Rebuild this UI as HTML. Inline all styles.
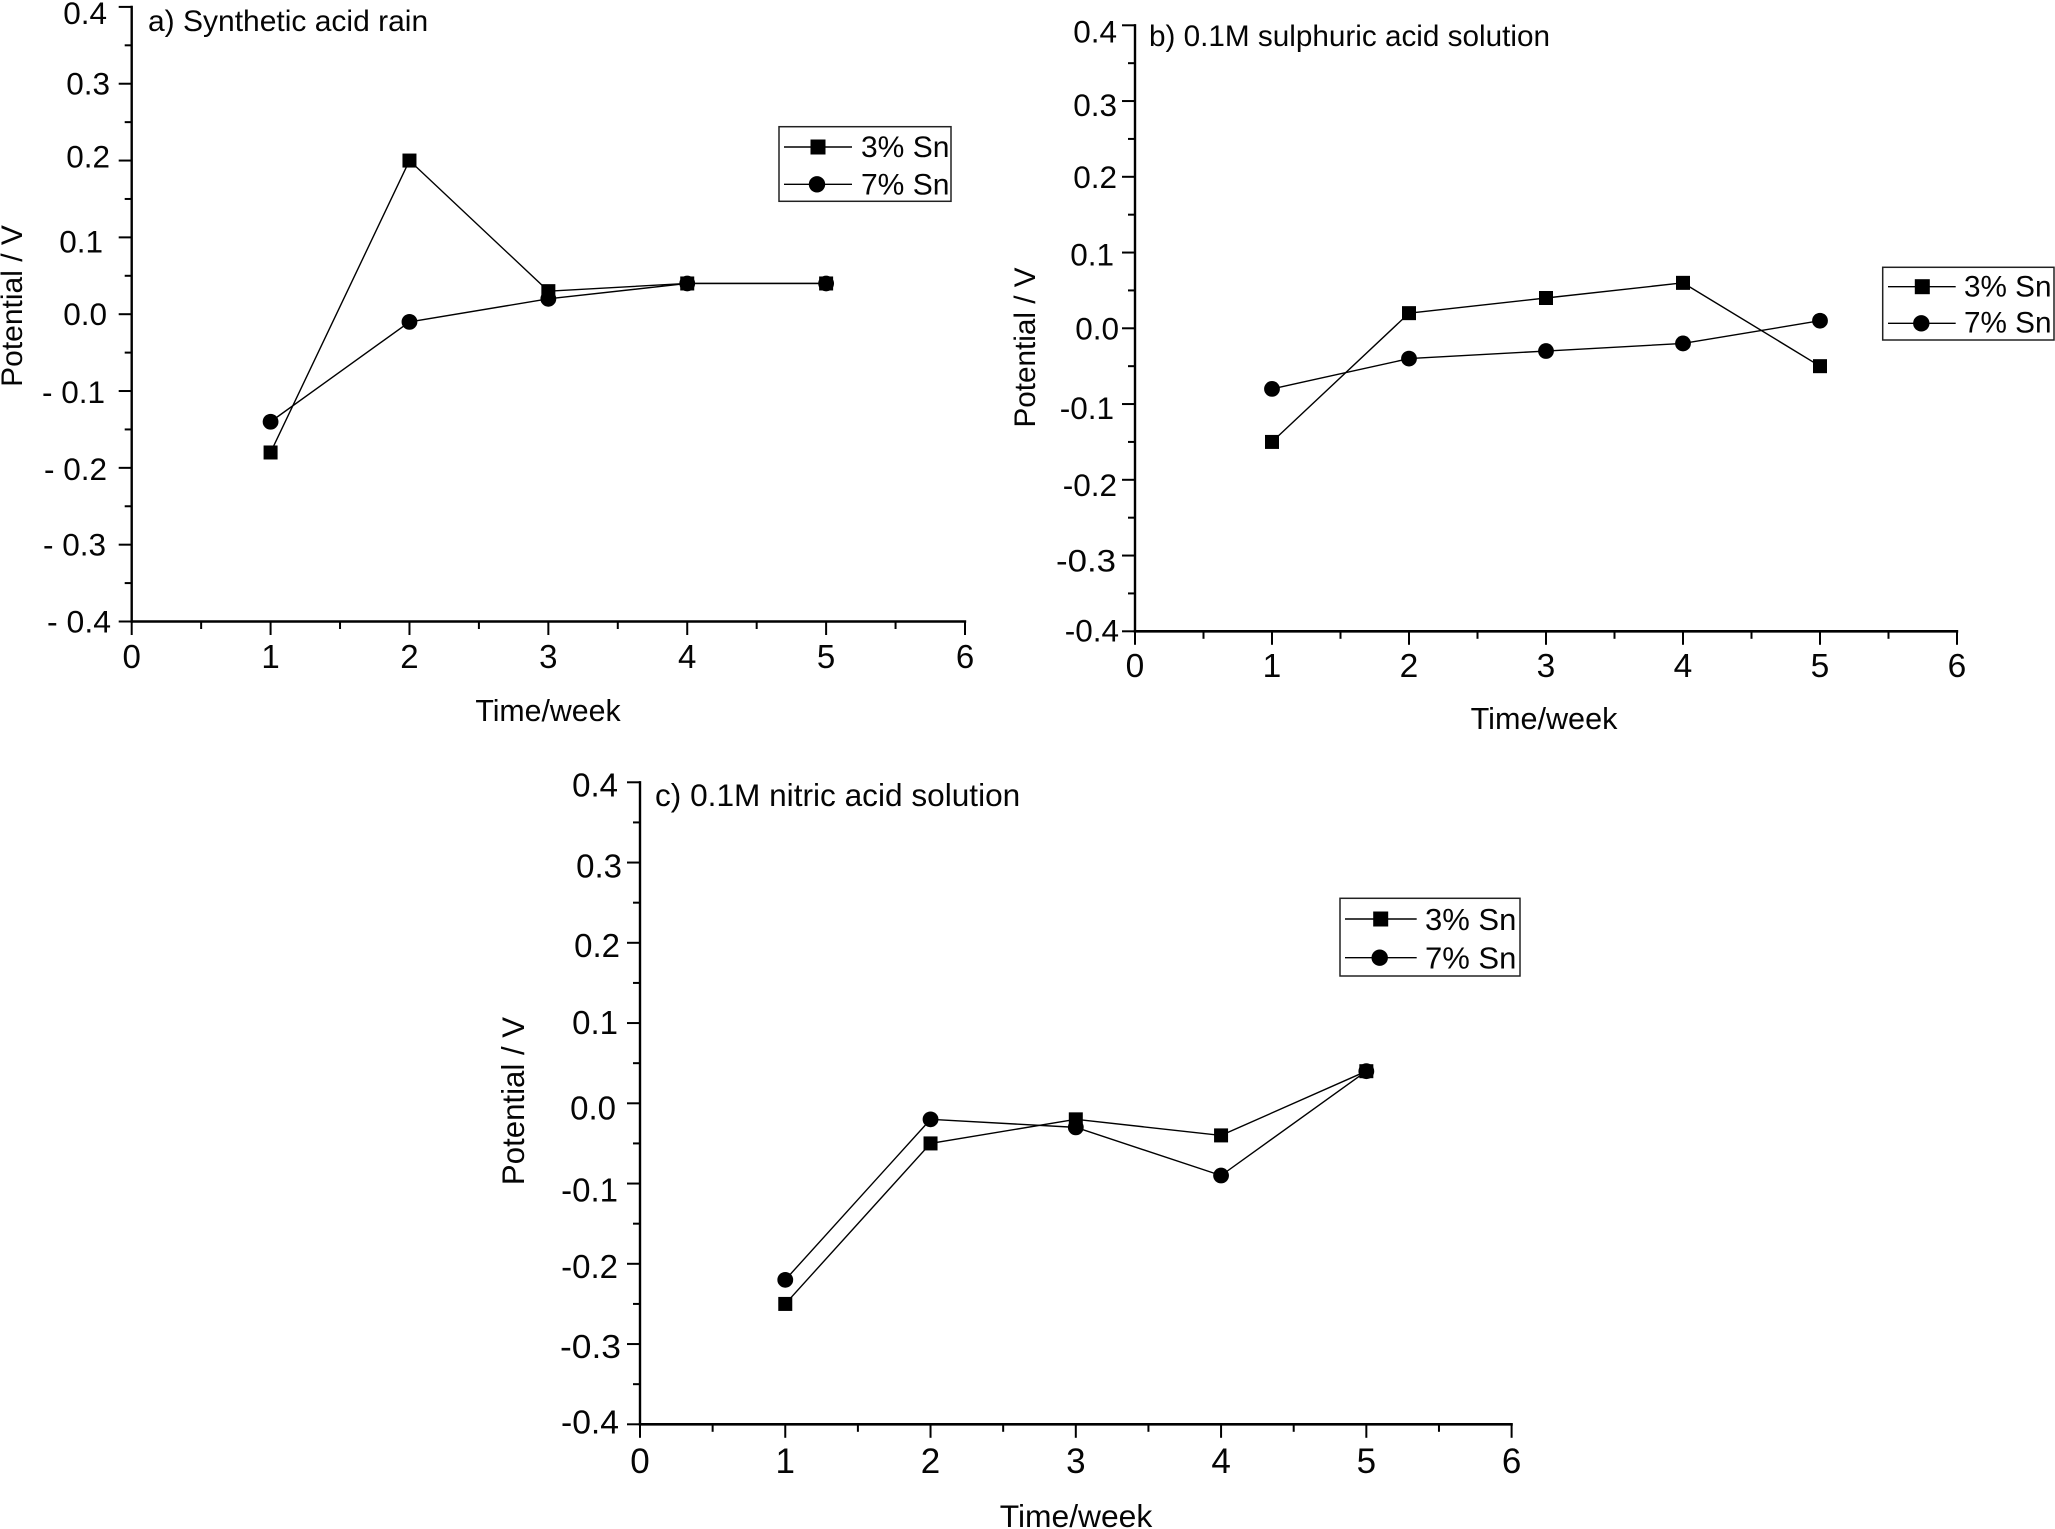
<!DOCTYPE html>
<html lang="en">
<head>
<meta charset="utf-8">
<title>Potential versus time for 3% and 7% Sn alloys</title>
<style>
html,body{margin:0;padding:0;background:#fff;}
#figure{display:block;width:2055px;height:1529px;background:#fff;}
text{font-family:"Liberation Sans",Arial,sans-serif;fill:#050505;}
</style>
</head>
<body>
<svg id="figure" xmlns="http://www.w3.org/2000/svg" width="2055" height="1529" viewBox="0 0 2055 1529"></svg>
<script>
// ---- Data ----
const weeks = [1, 2, 3, 4, 5];
const panelA3Sn = [-0.18, 0.20, 0.03, 0.04, 0.04];
const panelA7Sn = [-0.14, -0.01, 0.02, 0.04, 0.04];
const panelB3Sn = [-0.15, 0.02, 0.04, 0.06, -0.05];
const panelB7Sn = [-0.08, -0.04, -0.03, -0.02, 0.01];
const panelC3Sn = [-0.25, -0.05, -0.02, -0.04, 0.04];
const panelC7Sn = [-0.22, -0.02, -0.03, -0.09, 0.04];
const xTickValues = [0, 1, 2, 3, 4, 5, 6];
const xMinorValues = [0.5, 1.5, 2.5, 3.5, 4.5, 5.5];
const yTickValues = [0.4, 0.3, 0.2, 0.1, 0.0, -0.1, -0.2, -0.3, -0.4];
const yMinorValues = [0.35, 0.25, 0.15, 0.05, -0.05, -0.15, -0.25, -0.35];
const xTickLabels = ["0", "1", "2", "3", "4", "5", "6"];
const yTickLabelsA = ["0.4", "0.3", "0.2", "0.1", "0.0", "- 0.1", "- 0.2", "- 0.3", "- 0.4"];
const yTickLabelsBC = ["0.4", "0.3", "0.2", "0.1", "0.0", "-0.1", "-0.2", "-0.3", "-0.4"];
const seriesNames = ["3% Sn", "7% Sn"];

// ---- Layout of each panel (pixels, separate from the data) ----
const panels = [
  { id: "a", title: "a) Synthetic acid rain", s3: panelA3Sn, s7: panelA7Sn, yLabels: yTickLabelsA,
    x0: 131.7, x6: 965, yTop: 6.9, yBot: 621.5, tickFont: 31.5, xTickFont: 33,
    yLabelRight: [107, 110, 110, 103, 107, 105, 107, 106, 111],
    yLabelShift: [6, 0, -4, 4, 0, 1, 1, 0, 0],
    yLabelFit: { 8: 64 },
    xLabelBase: 668, titleX: 148, titleY: 31, titleFont: 30,
    yTitleX: 22, yTitleY: 306, yTitleFont: 30,
    xTitleX: 548, xTitleY: 721, xTitleFont: 30.3,
    legend: { l: 779, t: 126.7, r: 951, b: 201.3, lineL: 784, lineR: 852, mx: 818, y1: 147, y2: 184.3, tx: 861, b1: 157, b2: 194.3, font: 30 } },
  { id: "b", title: "b) 0.1M sulphuric acid solution", s3: panelB3Sn, s7: panelB7Sn, yLabels: yTickLabelsBC,
    x0: 1135, x6: 1957, yTop: 25.3, yBot: 631.3, tickFont: 31.5, xTickFont: 33.5,
    yLabelRight: [1117, 1117, 1117, 1114, 1119, 1114, 1117, 1116, 1119],
    yLabelShift: [6, 4, 0, 2, 0, 4, 5, 5, -1],
    yLabelFit: { 7: 60 },
    xLabelBase: 677, titleX: 1149, titleY: 46, titleFont: 29.7,
    yTitleX: 1035, yTitleY: 347.5, yTitleFont: 29.7,
    xTitleX: 1544, xTitleY: 729, xTitleFont: 30.6,
    legend: { l: 1882.7, t: 267.3, r: 2054, b: 340, lineL: 1888, lineR: 1955.7, mx: 1922.3, y1: 286.7, y2: 323.3, tx: 1964, b1: 296.7, b2: 332.7, font: 29.7 } },
  { id: "c", title: "c) 0.1M nitric acid solution", s3: panelC3Sn, s7: panelC7Sn, yLabels: yTickLabelsBC,
    x0: 640, x6: 1511.6, yTop: 782.3, yBot: 1424.3, tickFont: 33, xTickFont: 35,
    yLabelRight: [618, 622, 620, 618, 616, 618, 618, 621, 619],
    yLabelShift: [3, 4, 3, 0, 5, 7, 3, 3, -2],
    yLabelFit: { 7: 61, 8: 58 },
    xLabelBase: 1473, titleX: 655, titleY: 806, titleFont: 31.6,
    yTitleX: 524, yTitleY: 1101, yTitleFont: 31.2,
    xTitleX: 1076, xTitleY: 1527, xTitleFont: 31.8,
    legend: { l: 1340, t: 898.3, r: 1520, b: 976, lineL: 1345, lineR: 1416.7, mx: 1380.7, y1: 919, y2: 957.7, tx: 1425, b1: 930, b2: 968.3, font: 31 } }
];

const SVG_NS = "http://www.w3.org/2000/svg";
const figure = document.getElementById("figure");

function make(tag, parent, attrs, content) {
  const el = document.createElementNS(SVG_NS, tag);
  for (const key in attrs) el.setAttribute(key, attrs[key]);
  if (content !== undefined) el.textContent = content;
  parent.appendChild(el);
  return el;
}

function drawPanel(p) {
  const xScale = v => p.x0 + (v - 0) * (p.x6 - p.x0) / 6;
  const yScale = v => p.yTop + (0.4 - v) * (p.yBot - p.yTop) / 0.8;
  const ink = "#000";

  const panel = make("g", figure, {});
  
  

  const title = make("text", panel, { x: p.titleX, y: p.titleY, "font-size": p.titleFont }, p.title);
  
  

  // y axis
  const yAxis = make("g", panel, {});
  
  
  const yLine = make("line", yAxis, { x1: p.x0, x2: p.x0, y1: yScale(0.4) - 1.2, y2: yScale(-0.4) + 1.2, stroke: ink, "stroke-width": 2.4 });
  
  
  yMinorValues.forEach(v => {
    const t = make("line", yAxis, { x1: p.x0 - 7, x2: p.x0, y1: yScale(v), y2: yScale(v), stroke: ink, "stroke-width": 2 });
    
    
  });
  yTickValues.forEach((v, i) => {
    const t = make("line", yAxis, { x1: p.x0 - 13, x2: p.x0, y1: yScale(v), y2: yScale(v), stroke: ink, "stroke-width": 2 });
    
    
    const label = make("text", yAxis, { x: p.yLabelRight[i], y: yScale(v) + 11 + p.yLabelShift[i], "text-anchor": "end", "font-size": p.tickFont }, p.yLabels[i]);
    if (p.yLabelFit[i]) {
      label.setAttribute("textLength", p.yLabelFit[i]);
      label.setAttribute("lengthAdjust", "spacingAndGlyphs");
    }
    
    
  });
  const yTitle = make("text", yAxis, { transform: "translate(" + p.yTitleX + " " + p.yTitleY + ") rotate(-90)", "text-anchor": "middle", "font-size": p.yTitleFont }, "Potential / V");
  
  

  // x axis
  const xAxis = make("g", panel, {});
  
  
  const xLine = make("line", xAxis, { x1: p.x0 - 1.2, x2: xScale(6) + 1.2, y1: p.yBot, y2: p.yBot, stroke: ink, "stroke-width": 2.6 });
  
  
  xMinorValues.forEach(v => {
    const t = make("line", xAxis, { x1: xScale(v), x2: xScale(v), y1: p.yBot, y2: p.yBot + 7.5, stroke: ink, "stroke-width": 2 });
    
    
  });
  xTickValues.forEach((v, i) => {
    const t = make("line", xAxis, { x1: xScale(v), x2: xScale(v), y1: p.yBot, y2: p.yBot + 13.5, stroke: ink, "stroke-width": 2 });
    
    
    const label = make("text", xAxis, { x: xScale(v), y: p.xLabelBase, "text-anchor": "middle", "font-size": p.xTickFont }, xTickLabels[i]);
    
    
  });
  const xTitle = make("text", xAxis, { x: p.xTitleX, y: p.xTitleY, "text-anchor": "middle", "font-size": p.xTitleFont }, "Time/week");
  
  

  // series
  const drawSeries = (values, kind, name) => {
    const group = make("g", panel, {});
    
    
    const points = values.map((v, i) => xScale(weeks[i]) + "," + yScale(v)).join(" ");
    const line = make("polyline", group, { points: points, fill: "none", stroke: ink, "stroke-width": 1.4 });
    
    
    values.forEach((v, i) => {
      const cx = xScale(weeks[i]);
      const cy = yScale(v);
      let mark;
      if (kind === "square") {
        mark = make("rect", group, { x: cx - 7, y: cy - 7, width: 14, height: 14, fill: ink });
      } else {
        mark = make("circle", group, { cx: cx, cy: cy, r: 7.9, fill: ink });
      }
      
      
    });
  };
  drawSeries(p.s3, "square", "3-percent-sn");
  drawSeries(p.s7, "circle", "7-percent-sn");

  // legend
  const lg = p.legend;
  const legend = make("g", panel, {});
  
  
  const frame = make("rect", legend, { x: lg.l, y: lg.t, width: lg.r - lg.l, height: lg.b - lg.t, fill: "none", stroke: "#222", "stroke-width": 1.5 });
  
  

  const entry1 = make("g", legend, {});
  
  
  const line1 = make("line", entry1, { x1: lg.lineL, x2: lg.lineR, y1: lg.y1, y2: lg.y1, stroke: ink, "stroke-width": 1.4 });
  
  
  const sq = make("rect", entry1, { x: lg.mx - 7.5, y: lg.y1 - 7.5, width: 15, height: 15, fill: ink });
  
  
  const text1 = make("text", entry1, { x: lg.tx, y: lg.b1, "font-size": lg.font }, seriesNames[0]);
  
  

  const entry2 = make("g", legend, {});
  
  
  const line2 = make("line", entry2, { x1: lg.lineL, x2: lg.lineR, y1: lg.y2, y2: lg.y2, stroke: ink, "stroke-width": 1.4 });
  
  
  const dot = make("circle", entry2, { cx: lg.mx - 1, cy: lg.y2, r: 8.2, fill: ink });
  
  
  const text2 = make("text", entry2, { x: lg.tx, y: lg.b2, "font-size": lg.font }, seriesNames[1]);
  
  
}

panels.forEach(drawPanel);
</script>
</body>
</html>
